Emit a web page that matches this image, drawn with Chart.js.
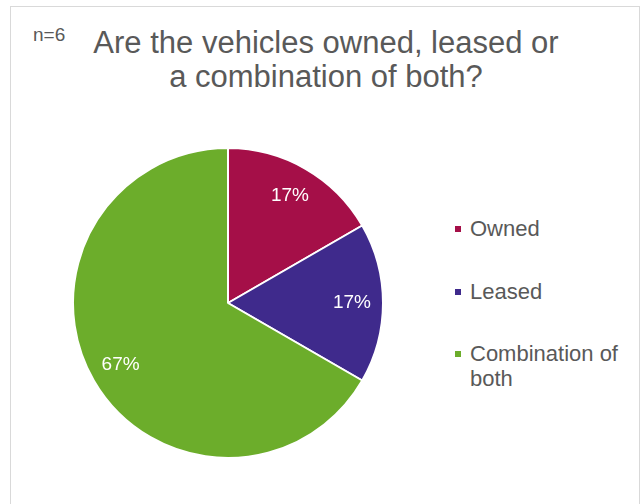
<!DOCTYPE html>
<html lang="en">
<head>
<meta charset="UTF-8">
<title>Vehicle ownership</title>
<script src="https://cdn.jsdelivr.net/npm/chart.js"></script>
<style>
  body { margin: 0; background: #fff; font-family: "Liberation Sans", Arial, sans-serif; color: #595959; }
  #frame { position: absolute; left: 10px; top: 6px; width: 630px; height: 510px; border: 1px solid #d9d9d9; box-sizing: border-box; }
  #n { position: absolute; left: 33px; top: 24px; font-size: 19px; line-height: 22px; }
  #title { position: absolute; left: 0; width: 652px; top: 26px; text-align: center; font-size: 31px; line-height: 34px; }
  #pieBox { position: absolute; left: 72px; top: 147px; width: 312px; height: 312px; }
  #legend { position: absolute; left: 455px; top: 216px; font-size: 22px; }
  .item { position: relative; padding-left: 15px; width: 175px; line-height: 25px; margin-bottom: 37.5px; }
  .item span { position: absolute; left: 0; top: 10px; width: 6px; height: 6px; }
</style>
</head>
<body>
<div id="frame"></div>
<div id="n">n=6</div>
<div id="title">Are the vehicles owned, leased or<br>a combination of both?</div>
<div id="pieBox"><canvas id="pie"></canvas></div>
<div id="legend"></div>

<script>
const categorias = ['Owned', 'Leased', 'Combination of both'];
const respostas = [1, 1, 4];
const cores = ['#a50f48', '#3f2a8c', '#6cad2b'];

// legenda ao lado
const legenda = document.getElementById('legend');
categorias.forEach((c, i) => {
  const d = document.createElement('div');
  d.className = 'item';
  d.innerHTML = `<span style="background:${cores[i]}"></span>${c.replace('Combination of both', 'Combination of<br>both')}`;
  legenda.appendChild(d);
});

// rótulos de percentagem dentro das fatias
const rotulos = {
  id: 'rotulos',
  afterDatasetsDraw(chart) {
    const ctx = chart.ctx;
    const total = respostas.reduce((a, b) => a + b, 0);
    const meta = chart.getDatasetMeta(0);
    ctx.save();
    ctx.fillStyle = '#ffffff';
    ctx.font = '19px "Liberation Sans", Arial, sans-serif';
    ctx.textAlign = 'center';
    ctx.textBaseline = 'middle';
    meta.data.forEach((arc, i) => {
      const meio = (arc.startAngle + arc.endAngle) / 2;
      const r = arc.outerRadius * 0.8;
      const x = arc.x + Math.cos(meio) * r;
      const y = arc.y + Math.sin(meio) * r;
      ctx.fillText(Math.round(respostas[i] / total * 100) + '%', x, y);
    });
    ctx.restore();
  }
};

new Chart(document.getElementById('pie'), {
  type: 'pie',
  data: {
    labels: categorias,
    datasets: [{
      data: respostas,
      backgroundColor: cores,
      borderColor: '#ffffff',
      borderWidth: 2
    }]
  },
  options: {
    responsive: true,
    maintainAspectRatio: false,
    animation: false,
    layout: { padding: 0 },
    plugins: {
      legend: { display: false },
      tooltip: { enabled: false }
    }
  },
  plugins: [rotulos]
});
</script>
</body>
</html>
